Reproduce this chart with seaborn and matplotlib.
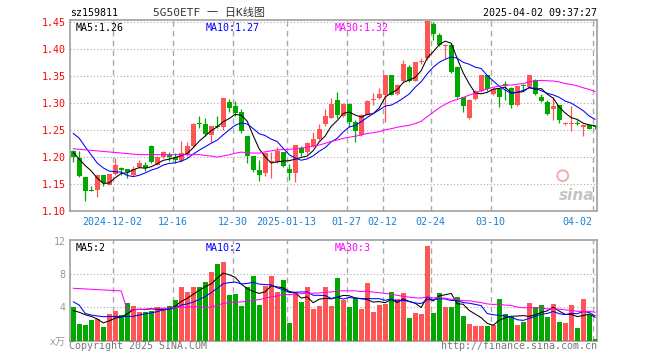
import numpy as np
import pandas as pd
import matplotlib
matplotlib.use("Agg")
import matplotlib.pyplot as plt
import seaborn as sns

sns.set_style("white")
plt.rcParams['font.family'] = ['DejaVu Sans Mono', 'Noto Sans CJK SC']

# ---------------- data ----------------
opens = [1.212, 1.199, 1.163, 1.138, 1.139, 1.166, 1.149, 1.168, 1.180, 1.177, 1.166, 1.181, 1.185, 1.221, 1.186,
         1.200, 1.204, 1.200, 1.192, 1.204, 1.220, 1.262, 1.261, 1.241, 1.258, 1.256, 1.301, 1.294, 1.284, 1.238,
         1.201, 1.176, 1.171, 1.191, 1.190, 1.209, 1.177, 1.171, 1.217, 1.210, 1.220, 1.233, 1.261, 1.273, 1.306,
         1.275, 1.298, 1.265, 1.240, 1.278, 1.305, 1.309, 1.314, 1.351, 1.317, 1.340, 1.366, 1.341, 1.376, 1.383,
         1.446, 1.426, 1.405, 1.408, 1.367, 1.311, 1.272, 1.308, 1.322, 1.351, 1.316, 1.325, 1.335, 1.328, 1.296,
         1.332, 1.330, 1.343, 1.312, 1.302, 1.289, 1.296, 1.261, 1.261, 1.263, 1.256, 1.260, 1.257]
closes = [1.200, 1.165, 1.137, 1.137, 1.166, 1.151, 1.168, 1.186, 1.176, 1.173, 1.178, 1.189, 1.180, 1.190, 1.200,
          1.210, 1.200, 1.195, 1.207, 1.221, 1.262, 1.261, 1.243, 1.257, 1.256, 1.309, 1.291, 1.282, 1.249, 1.201,
          1.176, 1.167, 1.208, 1.192, 1.212, 1.183, 1.171, 1.222, 1.208, 1.225, 1.233, 1.252, 1.276, 1.298, 1.278,
          1.299, 1.265, 1.249, 1.278, 1.303, 1.306, 1.317, 1.351, 1.315, 1.334, 1.372, 1.341, 1.375, 1.378, 1.452,
          1.428, 1.407, 1.408, 1.358, 1.312, 1.294, 1.306, 1.322, 1.351, 1.325, 1.325, 1.312, 1.334, 1.297, 1.331,
          1.331, 1.351, 1.317, 1.304, 1.279, 1.294, 1.268, 1.262, 1.262, 1.262, 1.259, 1.252, 1.255]
highs = [1.213, 1.212, 1.163, 1.147, 1.167, 1.167, 1.169, 1.198, 1.181, 1.178, 1.183, 1.195, 1.190, 1.222, 1.202,
         1.211, 1.210, 1.207, 1.230, 1.228, 1.263, 1.276, 1.272, 1.258, 1.276, 1.310, 1.307, 1.304, 1.288, 1.239,
         1.202, 1.195, 1.209, 1.210, 1.218, 1.210, 1.187, 1.223, 1.220, 1.227, 1.246, 1.262, 1.289, 1.309, 1.320,
         1.300, 1.300, 1.268, 1.279, 1.305, 1.319, 1.328, 1.352, 1.352, 1.335, 1.380, 1.370, 1.376, 1.383, 1.454,
         1.450, 1.429, 1.410, 1.412, 1.368, 1.312, 1.307, 1.324, 1.352, 1.352, 1.327, 1.326, 1.341, 1.330, 1.332,
         1.336, 1.352, 1.345, 1.316, 1.305, 1.312, 1.297, 1.265, 1.294, 1.268, 1.262, 1.262, 1.259]
lows = [1.190, 1.163, 1.119, 1.137, 1.126, 1.146, 1.148, 1.167, 1.166, 1.161, 1.165, 1.180, 1.174, 1.189, 1.185,
        1.199, 1.192, 1.189, 1.190, 1.202, 1.219, 1.253, 1.238, 1.228, 1.253, 1.250, 1.284, 1.276, 1.244, 1.188,
        1.173, 1.156, 1.165, 1.162, 1.189, 1.181, 1.158, 1.154, 1.201, 1.206, 1.218, 1.232, 1.257, 1.272, 1.272,
        1.274, 1.256, 1.228, 1.238, 1.277, 1.296, 1.308, 1.265, 1.314, 1.315, 1.338, 1.338, 1.340, 1.372, 1.380,
        1.417, 1.405, 1.384, 1.355, 1.310, 1.284, 1.271, 1.306, 1.321, 1.322, 1.314, 1.293, 1.306, 1.290, 1.295,
        1.324, 1.329, 1.314, 1.302, 1.278, 1.268, 1.263, 1.260, 1.248, 1.259, 1.238, 1.251, 1.252]
volumes = [4.1, 2.0, 1.9, 2.5, 2.6, 1.7, 3.2, 3.6, 3.1, 4.5, 4.2, 3.5, 3.4, 3.6, 4.1, 3.9, 4.2, 4.9, 6.5, 5.9,
           6.4, 6.5, 7.1, 8.3, 9.2, 9.5, 5.5, 5.6, 4.2, 6.5, 7.8, 4.3, 6.6, 7.8, 5.8, 7.3, 2.1, 5.8, 4.6, 6.5,
           3.8, 4.2, 6.4, 4.2, 7.5, 4.9, 4.0, 5.1, 3.8, 6.9, 3.4, 4.3, 4.4, 5.8, 5.0, 5.7, 2.7, 3.3, 3.2, 11.4,
           3.3, 5.7, 4.0, 4.0, 5.2, 3.0, 2.0, 1.8, 1.8, 1.8, 1.9, 5.0, 3.2, 2.8, 1.9, 2.2, 4.5, 4.1, 4.3, 2.8,
           4.4, 2.2, 2.1, 4.3, 1.5, 5.0, 3.1, 0.2]
# closes / volumes of the 29 sessions before the first visible one (estimated from the MA lines)
prior_closes = [1.195, 1.167, 1.167, 1.196, 1.181, 1.198, 1.216, 1.206, 1.203, 1.208, 1.219, 1.180, 1.190, 1.200,
                1.210, 1.200, 1.195, 1.207, 1.221, 1.262, 1.255, 1.297, 1.287, 1.316, 1.241, 1.228, 1.196, 1.186,
                1.233]
prior_volumes = [3.2, 3.1, 3.7, 3.8, 2.9, 4.4, 4.8, 4.4, 73.5, 3.1, 2.3, 2.3, 2.5, 3.0, 2.8, 3.1, 3.8, 5.4, 4.8,
                 5.3, 6.0, 11.9, 4.5, 3.6, 2.7, 3.0, 3.4, 3.5, 4.1]
tick_days = [7, 17, 27, 36, 46, 52, 60, 70, 87]
tick_labels = ['2024-12-02', '12-16', '12-30', '2025-01-13', '01-27', '02-12', '02-24', '03-10', '04-02']
price_ticks = [1.10, 1.15, 1.20, 1.25, 1.30, 1.35, 1.40, 1.45]
vol_ticks = [4, 8, 12]

# ---------------- derived ----------------
n = len(closes)
idx = np.arange(n)
npc = len(prior_closes)
cs = pd.Series(prior_closes + closes)
vs = pd.Series(prior_volumes + volumes)
ma = {k: cs.rolling(k).mean().iloc[npc:].to_numpy() for k in (5, 10, 30)}
vma = {k: vs.rolling(k).mean().iloc[npc:].to_numpy() for k in (5, 10, 30)}
up = np.array(closes) >= np.array(opens)

RED = '#ff5555'
GREEN = '#00a800'
MA_COL = {5: 'black', 10: '#0000ff', 30: '#ff00ff'}
GRID = '#aaaaaa'
FRAME = '#a0a0a0'
DATE_COL = '#1a80d8'
LW = 0.75

fig = plt.figure(figsize=(6.6, 3.6), dpi=100)
ax = fig.add_axes([70 / 660, 1 - 211 / 360, 527 / 660, 191 / 360])
axv = fig.add_axes([70 / 660, 1 - 340.7 / 360, 527 / 660, 100.7 / 360])

xmin, xmax = -0.53, 87.3
grid_x = [d - 0.42 for d in tick_days]

# ---------------- price panel ----------------
for i in idx:
    col = RED if up[i] else GREEN
    ax.vlines(i, lows[i], highs[i], color=col, lw=0.9, zorder=3)
    bot = min(opens[i], closes[i])
    h = max(abs(closes[i] - opens[i]), 0.0016)
    ax.bar(i, h, bottom=bot, width=0.8, color=col, linewidth=0, zorder=4)

for k in (5, 10, 30):
    sns.lineplot(x=idx, y=ma[k], ax=ax, color=MA_COL[k], lw=LW, zorder=5)

for gx in grid_x:
    ax.axvline(gx, color=GRID, lw=1.0, ls=(0, (4, 3)), zorder=1)
for p in price_ticks[1:]:
    ax.axhline(p, color=GRID, lw=0.8, ls=(0, (1, 2)), zorder=1)

ax.set_xlim(xmin, xmax)
ax.set_ylim(1.10, 1.4537)
ax.set_yticks(price_ticks)
ax.set_yticklabels([f"{p:.2f}" for p in price_ticks], color='#ff0000', fontsize=7.2)
ax.set_xticks(grid_x)
ax.set_xticklabels(tick_labels, color=DATE_COL, fontsize=7.2)
ax.get_xticklabels()[-1].set_ha('right')
ax.tick_params(axis='both', length=0)
ax.tick_params(axis='y', pad=3)
ax.tick_params(axis='x', pad=4)
ax.set_xlabel('')
ax.set_ylabel('')
for s in ax.spines.values():
    s.set_color(FRAME)
    s.set_linewidth(1.2)

ax.text(0.01, 0.985, f"MA5:{ma[5][-1]:.2f}", transform=ax.transAxes, ha='left', va='top',
        fontsize=7.2, color=MA_COL[5])
ax.text(0.257, 0.985, f"MA10:{ma[10][-1]:.2f}", transform=ax.transAxes, ha='left', va='top',
        fontsize=7.2, color=MA_COL[10])
ax.text(0.503, 0.985, f"MA30:{ma[30][-1]:.2f}", transform=ax.transAxes, ha='left', va='top',
        fontsize=7.2, color=MA_COL[30])

# sina watermark
ax.text(0.995, 0.04, "sina", transform=ax.transAxes, ha='right', va='bottom', fontsize=11,
        fontweight='bold', fontstyle='italic', color='#c4c4c4', family='DejaVu Sans', zorder=2)
ax.scatter([0.935], [0.185], s=60, transform=ax.transAxes, facecolors='none', edgecolors='#f2b0b0',
           linewidths=1.5, zorder=2)

# ---------------- volume panel ----------------
vcols = [RED if u else GREEN for u in up]
axv.bar(idx, volumes, width=0.83, color=vcols, linewidth=0, zorder=3)
for k in (5, 10, 30):
    sns.lineplot(x=idx, y=vma[k], ax=axv, color=MA_COL[k], lw=LW, zorder=5)
for gx in grid_x:
    axv.axvline(gx, color=GRID, lw=1.0, ls=(0, (4, 3)), zorder=1)
for v in vol_ticks[:-1]:
    axv.axhline(v, color=GRID, lw=0.8, ls=(0, (1, 2)), zorder=1)
axv.set_xlim(xmin, xmax)
axv.set_ylim(0, 12.1)
axv.set_yticks([0] + vol_ticks)
axv.set_yticklabels(['x万'] + [str(v) for v in vol_ticks], color='#999999', fontsize=7.2)
axv.set_xticks([])
axv.tick_params(axis='both', length=0)
axv.tick_params(axis='y', pad=3)
axv.set_xlabel('')
axv.set_ylabel('')
for s in axv.spines.values():
    s.set_color(FRAME)
    s.set_linewidth(1.2)

axv.text(0.01, 0.975, f"MA5:{int(vma[5][-1])}", transform=axv.transAxes, ha='left', va='top',
         fontsize=7.2, color=MA_COL[5])
axv.text(0.257, 0.975, f"MA10:{int(vma[10][-1])}", transform=axv.transAxes, ha='left', va='top',
         fontsize=7.2, color=MA_COL[10])
axv.text(0.503, 0.975, f"MA30:{int(vma[30][-1])}", transform=axv.transAxes, ha='left', va='top',
         fontsize=7.2, color=MA_COL[30])

# ---------------- header / footer ----------------
fig.text(70 / 660, 1 - 13.5 / 360, "sz159811", ha='left', va='center', fontsize=7.2, color='black')
fig.text(209 / 660, 1 - 13 / 360, "5G50ETF 一 日K线图", ha='center', va='center', fontsize=8,
         color='#333333')
fig.text(597 / 660, 1 - 13.5 / 360, "2025-04-02 09:37:27", ha='right', va='center', fontsize=7.2,
         color='black')
fig.text(69 / 660, 1 - 346 / 360, "Copyright 2025 SINA.COM", ha='left', va='center', fontsize=7.2,
         color='#777777')
fig.text(597 / 660, 1 - 346 / 360, "http://finance.sina.com.cn", ha='right', va='center', fontsize=7.2,
         color='#777777')

fig.savefig("out.png", dpi=100, facecolor='white')
